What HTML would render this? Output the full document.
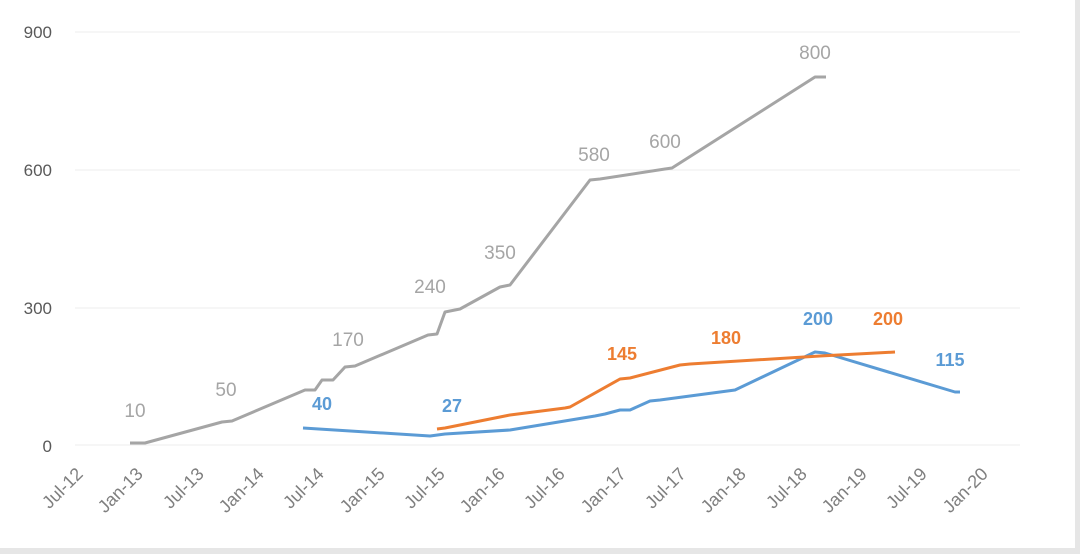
<!DOCTYPE html>
<html><head><style>body{margin:0;background:#fff}svg{display:block}</style></head><body>
<svg width="1080" height="554" viewBox="0 0 1080 554" xmlns="http://www.w3.org/2000/svg" font-family="Liberation Sans, sans-serif">
<rect x="0" y="0" width="1080" height="554" fill="#fff"/>
<rect x="0" y="548" width="1080" height="6" fill="#e6e6e6"/>
<rect x="1075" y="0" width="5" height="554" fill="#e6e6e6"/>
<g stroke="#ececec" stroke-width="1">
<line x1="75" y1="32" x2="1020" y2="32"/><line x1="75" y1="170" x2="1020" y2="170"/><line x1="75" y1="308" x2="1020" y2="308"/><line x1="75" y1="445" x2="1020" y2="445"/>
</g>
<g fill="#595959" font-size="17" text-anchor="end">
<text x="52" y="38">900</text><text x="52" y="176">600</text><text x="52" y="314">300</text><text x="52" y="452">0</text>
</g>
<g fill="#7f7f7f" font-size="18" text-anchor="end">
<text transform="translate(84,475) rotate(-45)">Jul-12</text>
<text transform="translate(144,475) rotate(-45)">Jan-13</text>
<text transform="translate(205,475) rotate(-45)">Jul-13</text>
<text transform="translate(265,475) rotate(-45)">Jan-14</text>
<text transform="translate(325,475) rotate(-45)">Jul-14</text>
<text transform="translate(386,475) rotate(-45)">Jan-15</text>
<text transform="translate(446,475) rotate(-45)">Jul-15</text>
<text transform="translate(506,475) rotate(-45)">Jan-16</text>
<text transform="translate(566,475) rotate(-45)">Jul-16</text>
<text transform="translate(627,475) rotate(-45)">Jan-17</text>
<text transform="translate(687,475) rotate(-45)">Jul-17</text>
<text transform="translate(747,475) rotate(-45)">Jan-18</text>
<text transform="translate(808,475) rotate(-45)">Jul-18</text>
<text transform="translate(868,475) rotate(-45)">Jan-19</text>
<text transform="translate(928,475) rotate(-45)">Jul-19</text>
<text transform="translate(989,475) rotate(-45)">Jan-20</text>
</g>
<g fill="none" stroke-width="3" stroke-linejoin="round">
<polyline stroke="#a5a5a5" points="130,443 145,443 222,422 232,421 305,390 315,390 322,380 333,380 345,367 355,366 428,335 437,334 445,312 460,309 500,287 510,285 590,180 600,179 665,169 672,168 815,77 826,77"/>
<polyline stroke="#5b9bd5" points="303,428 430,436 445,434 510,430 595,416 605,414 620,410 630,410 650,401 660,400 735,390 815,352 825,353 955,392 960,392"/>
<polyline stroke="#ed7d31" points="437,429 445,428 510,415 565,408 570,407 620,379 630,378 680,365 690,364 820,356 895,352"/>
</g>
<g fill="#a5a5a5" font-size="19" text-anchor="middle">
<text x="135" y="417">10</text><text x="226" y="396">50</text><text x="348" y="346">170</text><text x="430" y="293">240</text><text x="500" y="259">350</text><text x="594" y="161">580</text><text x="665" y="148">600</text><text x="815" y="59">800</text>
</g>
<g fill="#5b9bd5" font-size="18" font-weight="bold" text-anchor="middle">
<text x="322" y="410">40</text><text x="452" y="412">27</text><text x="818" y="325">200</text><text x="950" y="366">115</text>
</g>
<g fill="#ed7d31" font-size="18" font-weight="bold" text-anchor="middle">
<text x="622" y="360">145</text><text x="726" y="344">180</text><text x="888" y="325">200</text>
</g>
</svg>
</body></html>
